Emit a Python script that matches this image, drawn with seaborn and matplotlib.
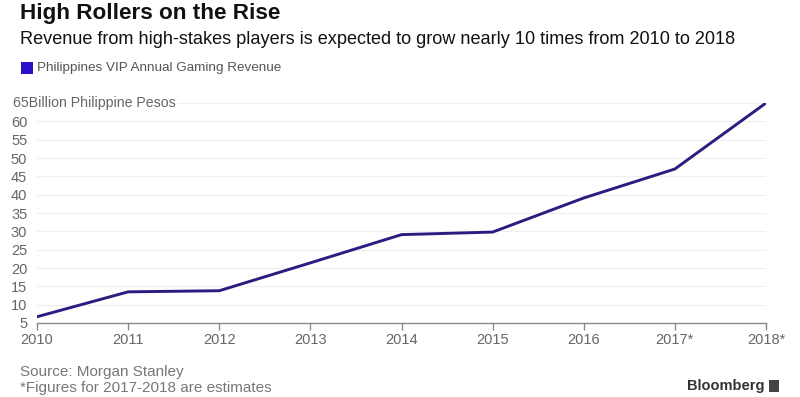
import matplotlib
matplotlib.use("Agg")
import matplotlib.pyplot as plt
import matplotlib.patches as mpatches
import seaborn as sns
import pandas as pd

years = ["2010", "2011", "2012", "2013", "2014", "2015", "2016", "2017*", "2018*"]
revenue = [6.7, 13.5, 13.8, 21.4, 29.1, 29.8, 39.1, 47.0, 65.0]
yticks = [5, 10, 15, 20, 25, 30, 35, 40, 45, 50, 55, 60, 65]
series_name = "Philippines VIP Annual Gaming Revenue"

sns.set_theme(style="white")
plt.rcParams["font.family"] = ["Liberation Sans", "DejaVu Sans"]

df = pd.DataFrame({"year": years, "revenue": revenue})

fig = plt.figure(figsize=(8, 3.97), dpi=100)
ax = fig.add_axes([37 / 800, 1 - 323 / 397, (766 - 37) / 800, (323 - 103) / 397])

sns.lineplot(data=df, x="year", y="revenue", ax=ax, sort=False,
             color="#2b1d80", linewidth=2.1, zorder=3)

ax.set_xlim(0, len(years) - 1)
ax.set_ylim(5, 65)
ax.set_yticks(yticks)
ax.set_yticklabels([str(v) if v != 65 else "" for v in yticks])
ax.set_xlabel("")
ax.set_ylabel("")

for v in yticks[1:]:
    ax.axhline(v, color="#efefef", linewidth=0.8, zorder=1)

for s in ["top", "right", "left"]:
    ax.spines[s].set_visible(False)
ax.spines["bottom"].set_color("#8a8a8a")
ax.spines["bottom"].set_linewidth(1.0)

ax.tick_params(axis="x", which="both", bottom=True, length=5, width=1.0,
               color="#8a8a8a", labelsize=10.5, labelcolor="#666666", pad=2)
ax.tick_params(axis="y", which="both", left=False, length=0,
               labelsize=10.5, labelcolor="#666666", pad=7)

ax.text(-0.033, 65, "65Billion Philippine Pesos", transform=ax.get_yaxis_transform(),
        ha="left", va="center", fontsize=10.2, color="#666666",
        bbox=dict(facecolor="white", edgecolor="none", pad=1.5), zorder=5)

fig.text(20 / 800, 1 - 14 / 397, "High Rollers on the Rise", fontsize=16.2,
         fontweight="bold", color="#111111", ha="left", va="center")
fig.text(20 / 800, 1 - 40 / 397,
         "Revenue from high-stakes players is expected to grow nearly 10 times from 2010 to 2018",
         fontsize=13.1, color="#111111", ha="left", va="center")

fig.patches.append(mpatches.Rectangle((21 / 800, 1 - 74 / 397), 12 / 800, 12 / 397,
                                      transform=fig.transFigure, facecolor="#2a10c8",
                                      edgecolor="none"))
fig.text(37 / 800, 1 - 68 / 397, series_name, fontsize=9.7, color="#555555",
         ha="left", va="center")

fig.text(20 / 800, 1 - 372 / 397, "Source: Morgan Stanley", fontsize=11,
         color="#777777", ha="left", va="center")
fig.text(20 / 800, 1 - 388 / 397, "*Figures for 2017-2018 are estimates", fontsize=11,
         color="#777777", ha="left", va="center")

fig.text(765 / 800, 1 - 386 / 397, "Bloomberg", fontsize=10.5, fontweight="bold",
         color="#333333", ha="right", va="center")
fig.patches.append(mpatches.Rectangle((769 / 800, 1 - 392 / 397), 10 / 800, 12 / 397,
                                      transform=fig.transFigure, facecolor="#444444",
                                      edgecolor="none"))

fig.savefig("out.png", dpi=100, facecolor="white")
